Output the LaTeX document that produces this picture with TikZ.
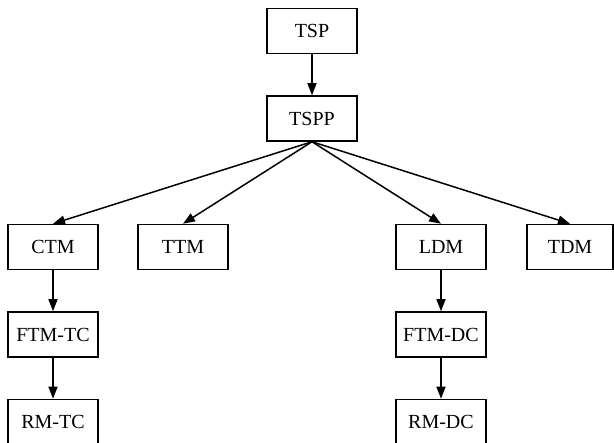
\documentclass[tikz,border=0pt]{standalone}
\usepackage{fontspec}
\setmainfont{Liberation Serif}
\usepackage{tikz}
\usetikzlibrary{arrows.meta,positioning}

\begin{document}
\begin{tikzpicture}[x=1pt, y=1pt, node distance=41pt, thick]
    % Stili dei nodi
    \tikzstyle{model}=[rectangle, minimum width=90pt, minimum height=45pt, text centered, draw=black, line width=1.5pt, font=\fontsize{20}{24}\selectfont]
    \tikzstyle{arrow}=[-{Triangle[length=12pt, width=9pt]}, line width=1.5pt]

    \useasboundingbox (0,0) rectangle (614,443);

    % Nodi
    \node (tsp) [model] at (312,412) {TSP};
    \node (tspp) [model, below=of tsp] {TSPP};
    \node (ctm) [model] at (53,196) {CTM};
    \node (ttm) [model] at (183,196) {TTM};
    \node (ldm) [model] at (441,196) {LDM};
    \node (tdm) [model, minimum width=86pt] at (570,196) {TDM};
    \node (ftmtc) [model, below=of ctm] {FTM-TC};
    \node (rmtc) [model, below=of ftmtc] {RM-TC};
    \node (ftmdc) [model, below=of ldm] {FTM-DC};
    \node (rmdc) [model, below=of ftmdc] {RM-DC};

    % Collegamenti
    \draw [arrow] (tsp) -- (tspp);
    \draw [arrow] (tspp.south) -- (ctm.north);
    \draw [arrow] (tspp.south) -- (ttm.north);
    \draw [arrow] (tspp.south) -- (ldm.north);
    \draw [arrow] (tspp.south) -- (tdm.north);
    \draw [arrow] (ctm) -- (ftmtc);
    \draw [arrow] (ftmtc) -- (rmtc);
    \draw [arrow] (ldm) -- (ftmdc);
    \draw [arrow] (ftmdc) -- (rmdc);
\end{tikzpicture}
\end{document}
